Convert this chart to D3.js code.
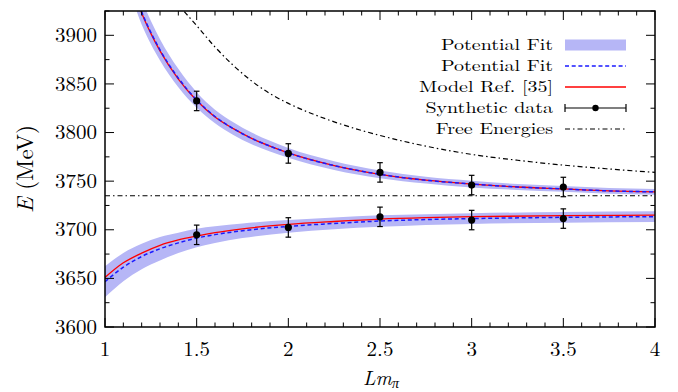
<!DOCTYPE html>
<html><head><meta charset="utf-8">
<script src="https://cdn.jsdelivr.net/npm/d3@7"></script>
<style>body{margin:0;background:#fff;}</style>
</head><body>
<svg id="chart" width="678" height="392"></svg>
<script>
// ---- data ----
const xTickValues = [1, 1.5, 2, 2.5, 3, 3.5, 4];
const xTickLabels = ["1", "1.5", "2", "2.5", "3", "3.5", "4"];
const yTickValues = [3600, 3650, 3700, 3750, 3800, 3850, 3900];
const yTickLabels = ["3600", "3650", "3700", "3750", "3800", "3850", "3900"];

const dataX = [1.5, 2, 2.5, 3, 3.5];
const upperData = [3832.5, 3778.5, 3759, 3746, 3744];
const lowerData = [3694.8, 3702.4, 3713.3, 3710, 3711.5];
const dataErr = [10, 10, 10, 10, 10];

const upperX = [1.15, 1.2, 1.25, 1.3, 1.4, 1.5, 1.6, 1.7, 1.8, 1.9, 2.0, 2.25, 2.5, 2.75, 3.0, 3.25, 3.5, 3.75, 4.0];
const upperModel = [3950, 3923, 3902, 3884, 3855, 3833, 3816, 3804, 3794, 3786, 3779, 3766, 3757, 3751, 3747, 3744, 3742, 3740, 3739];
const upperFit = [3951, 3924, 3903, 3885, 3856, 3833.5, 3816.5, 3804, 3794, 3786, 3779, 3766, 3757, 3751, 3747, 3744, 3742, 3740, 3739];
const upperBand = [14, 13, 12, 11, 9.5, 8, 7, 6.5, 6, 5.5, 5, 4.5, 4, 3.5, 3.5, 3, 3, 3, 3];

const lowerX = [1.0, 1.1, 1.2, 1.3, 1.4, 1.5, 1.6, 1.75, 2.0, 2.25, 2.5, 2.75, 3.0, 3.5, 4.0];
const lowerModel = [3651, 3666, 3676, 3684, 3689.5, 3693.5, 3697, 3701, 3705.5, 3708.5, 3711, 3712.5, 3713.5, 3714.5, 3715];
const lowerFit = [3646.5, 3661.5, 3672.5, 3680.5, 3686.5, 3691.5, 3695, 3699, 3703.5, 3706.5, 3709, 3710.5, 3711.5, 3712.8, 3713.5];
const lowerBand = [16, 14.5, 13, 12, 10.5, 9.5, 8.5, 7.5, 6.5, 6, 6, 5.5, 5.5, 5.5, 5.5];

const freeX = [1.35, 1.4, 1.5, 1.6, 1.7, 1.8, 1.9, 2.0, 2.25, 2.5, 2.75, 3.0, 3.25, 3.5, 3.75, 4.0];
const freeEnergy = [3945, 3932, 3910, 3888, 3869, 3853, 3840, 3830, 3811, 3797, 3786, 3777.5, 3771.5, 3766.5, 3762.5, 3759];

const thresholdX = [1, 4];
const thresholdE = [3735, 3735];

const legendLabels = ["Potential Fit", "Potential Fit", "Model Ref. [35]", "Synthetic data", "Free Energies"];

// ---- styles ----
const BAND = "#b6b6f6", BLUE = "#1a1aff", RED = "#ff0000";
const DASHDOT = "5,3,1.5,3";
const FONT = "'Latin Modern Roman', 'Liberation Serif', serif";

const svg = d3.select("#chart");
const L = 105, R = 655, T = 11, B = 327;
const x = d3.scaleLinear().domain([1, 4]).range([L, R]);
const y = d3.scaleLinear().domain([3600, 3925]).range([B, T]);

svg.append("defs").append("clipPath").attr("id", "clip")
  .append("rect").attr("x", L).attr("y", T).attr("width", R - L).attr("height", B - T);
const plot = svg.append("g").attr("clip-path", "url(#clip)");

const curve = d3.curveMonotoneX;
function series(xs, ys) { return xs.map((v, i) => [v, ys[i]]); }
const line = d3.line().x(d => x(d[0])).y(d => y(d[1])).curve(curve);
const area = d3.area().x(d => x(d[0])).y0(d => y(d[1] - d[2])).y1(d => y(d[1] + d[2])).curve(curve);

// bands
plot.append("path").datum(upperX.map((v, i) => [v, upperFit[i], upperBand[i]]))
  .attr("d", area).attr("fill", BAND);
plot.append("path").datum(lowerX.map((v, i) => [v, lowerFit[i], lowerBand[i]]))
  .attr("d", area).attr("fill", BAND);

// threshold & free energies
plot.append("path").datum(series(thresholdX, thresholdE)).attr("d", line)
  .attr("fill", "none").attr("stroke", "#000").attr("stroke-width", 1.2).attr("stroke-dasharray", DASHDOT);
plot.append("path").datum(series(freeX, freeEnergy)).attr("d", line)
  .attr("fill", "none").attr("stroke", "#000").attr("stroke-width", 1.2).attr("stroke-dasharray", DASHDOT);

// model (red)
[[upperX, upperModel], [lowerX, lowerModel]].forEach(([xs, ys]) => {
  plot.append("path").datum(series(xs, ys)).attr("d", line)
    .attr("fill", "none").attr("stroke", RED).attr("stroke-width", 1.3);
});
// fit (blue dashed)
[[upperX, upperFit], [lowerX, lowerFit]].forEach(([xs, ys]) => {
  plot.append("path").datum(series(xs, ys)).attr("d", line)
    .attr("fill", "none").attr("stroke", BLUE).attr("stroke-width", 1.5).attr("stroke-dasharray", "4,2.7");
});

// synthetic data
[upperData, lowerData].forEach(vals => {
  const g = svg.append("g");
  dataX.forEach((xv, i) => {
    const cx = x(xv), y1 = y(vals[i] - dataErr[i]), y2 = y(vals[i] + dataErr[i]);
    g.append("line").attr("x1", cx).attr("x2", cx).attr("y1", y1).attr("y2", y2).attr("stroke", "#000").attr("stroke-width", 1.2);
    g.append("line").attr("x1", cx - 2.8).attr("x2", cx + 2.8).attr("y1", y1).attr("y2", y1).attr("stroke", "#000").attr("stroke-width", 1.2);
    g.append("line").attr("x1", cx - 2.8).attr("x2", cx + 2.8).attr("y1", y2).attr("y2", y2).attr("stroke", "#000").attr("stroke-width", 1.2);
    g.append("circle").attr("cx", cx).attr("cy", y(vals[i])).attr("r", 3.6).attr("fill", "#000");
  });
});

// axes box with inward ticks on all sides
const axisG = svg.append("g");
const xMinor = d3.range(1, 4.0001, 0.1).map(v => +v.toFixed(2));
const yMinor = d3.range(3600, 3926, 25);
function tickLines(vals, major) {
  const len = major ? 9 : 4.5;
  vals.forEach(v => {
    const px = x(v);
    axisG.append("line").attr("x1", px).attr("x2", px).attr("y1", B).attr("y2", B - len).attr("stroke", "#000").attr("stroke-width", 1);
    axisG.append("line").attr("x1", px).attr("x2", px).attr("y1", T).attr("y2", T + len).attr("stroke", "#000").attr("stroke-width", 1);
  });
}
function yTickLines(vals, major) {
  const len = major ? 9 : 4.5;
  vals.forEach(v => {
    const py = y(v);
    axisG.append("line").attr("x1", L).attr("x2", L + len).attr("y1", py).attr("y2", py).attr("stroke", "#000").attr("stroke-width", 1);
    axisG.append("line").attr("x1", R).attr("x2", R - len).attr("y1", py).attr("y2", py).attr("stroke", "#000").attr("stroke-width", 1);
  });
}
tickLines(xMinor.filter(v => !xTickValues.some(t => Math.abs(t - v) < 1e-6)), false);
tickLines(xTickValues, true);
yTickLines(yMinor.filter(v => !yTickValues.includes(v)), false);
yTickLines(yTickValues, true);
axisG.append("rect").attr("x", L).attr("y", T).attr("width", R - L).attr("height", B - T)
  .attr("fill", "none").attr("stroke", "#000").attr("stroke-width", 1.5);

function txt(sel, size) { return sel.style("font-family", FONT).style("fill", "#000").style("font-size", size + "px"); }
function stretchFor(sample, size, target) {
  const t = txt(svg.append("text"), size).text(sample);
  const w = t.node().getComputedTextLength();
  t.remove();
  return target / w;
}
function stretch(sel, k) {
  const w = sel.node().getComputedTextLength();
  sel.attr("textLength", w * k).attr("lengthAdjust", "spacingAndGlyphs");
  return sel;
}

// tick labels
const TICK = 20;
const kTick = stretchFor("3900", TICK, 42);
xTickValues.forEach((v, i) => {
  stretch(txt(svg.append("text"), TICK).attr("x", x(v)).attr("y", 356).attr("text-anchor", "middle").text(xTickLabels[i]), kTick);
});
yTickValues.forEach((v, i) => {
  stretch(txt(svg.append("text"), TICK).attr("x", 97).attr("y", y(v)).attr("dy", "0.33em").attr("text-anchor", "end").text(yTickLabels[i]), kTick);
});

// axis titles
const yl = txt(svg.append("text"), 23).attr("transform", `translate(33,${(T + B) / 2}) rotate(-90)`)
  .attr("text-anchor", "middle");
yl.append("tspan").style("font-style", "italic").text("E");
yl.append("tspan").text(" (MeV)");
const xl = txt(svg.append("text"), 20).attr("x", 381).attr("y", 385).attr("text-anchor", "middle");
xl.append("tspan").style("font-style", "italic").text("Lm");
xl.append("tspan").style("font-style", "italic").style("font-size", "14px").attr("dy", 3).text("π");

// legend
const lg = svg.append("g");
const rowY = [45, 66, 87, 108, 129];
const sx1 = 565, sx2 = 626;
const LEG = 16;
const kLeg = stretchFor("Potential Fit", LEG, 112);
legendLabels.forEach((t, i) => {
  stretch(txt(lg.append("text"), LEG).attr("x", 553).attr("y", rowY[i]).attr("dy", "0.33em").attr("text-anchor", "end").text(t), kLeg);
});
lg.append("rect").attr("x", sx1).attr("y", rowY[0] - 5.5).attr("width", sx2 - sx1).attr("height", 11).attr("fill", BAND);
lg.append("line").attr("x1", sx1).attr("x2", sx2).attr("y1", rowY[1]).attr("y2", rowY[1])
  .attr("stroke", BLUE).attr("stroke-width", 1.5).attr("stroke-dasharray", "4,2.7");
lg.append("line").attr("x1", sx1).attr("x2", sx2).attr("y1", rowY[2]).attr("y2", rowY[2])
  .attr("stroke", RED).attr("stroke-width", 1.3);
lg.append("line").attr("x1", sx1).attr("x2", sx2).attr("y1", rowY[3]).attr("y2", rowY[3]).attr("stroke", "#000").attr("stroke-width", 1.2);
[sx1, sx2].forEach(px => lg.append("line").attr("x1", px).attr("x2", px).attr("y1", rowY[3] - 4).attr("y2", rowY[3] + 4).attr("stroke", "#000").attr("stroke-width", 1.2));
lg.append("circle").attr("cx", (sx1 + sx2) / 2).attr("cy", rowY[3]).attr("r", 3.2).attr("fill", "#000");
lg.append("line").attr("x1", sx1).attr("x2", sx2).attr("y1", rowY[4]).attr("y2", rowY[4])
  .attr("stroke", "#000").attr("stroke-width", 1.2).attr("stroke-dasharray", DASHDOT);
</script>
</body></html>
